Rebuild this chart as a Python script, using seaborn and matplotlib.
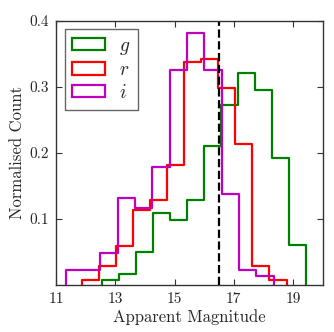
import numpy as np
import pandas as pd
import seaborn as sns
import matplotlib.pyplot as plt
from matplotlib.patches import Patch

# magnitude range of each band (12 equal bins) and normalised counts
g_range = (12.56, 19.44)
g_heights = [0.008, 0.017, 0.050, 0.109, 0.098, 0.129, 0.210, 0.273, 0.321, 0.295, 0.193, 0.060]
r_range = (11.86, 18.78)
r_heights = [0.007, 0.028, 0.059, 0.113, 0.129, 0.182, 0.337, 0.343, 0.298, 0.214, 0.028, 0.007]
i_range = (11.32, 18.35)
i_heights = [0.023, 0.023, 0.048, 0.132, 0.116, 0.179, 0.325, 0.382, 0.325, 0.138, 0.023, 0.013]

bands = ['g', 'r', 'i']
colours = ['g', 'r', 'm']
mag_cut = 16.5
x_ticks = [11, 13, 15, 17, 19]
y_ticks = [0.1, 0.2, 0.3, 0.4]

ranges = {'g': g_range, 'r': r_range, 'i': i_range}
heights = {'g': g_heights, 'r': r_heights, 'i': i_heights}

# styling
sns.set_style('ticks')
plt.rcParams['font.family'] = 'serif'
plt.rcParams['font.serif'] = ['cmr10']
plt.rcParams['mathtext.fontset'] = 'cm'
plt.rcParams['axes.formatter.use_mathtext'] = True
plt.rcParams['axes.unicode_minus'] = False

fig = plt.figure(figsize=(3.34, 3.32), dpi=100)
ax = fig.add_axes([0.168, 0.142, 0.798, 0.795])

for band, col in zip(bands, colours):
    lo, hi = ranges[band]
    edges = np.linspace(lo, hi, len(heights[band]) + 1)
    centres = (edges[:-1] + edges[1:]) / 2
    df = pd.DataFrame({'mag': centres, 'h': heights[band]})
    # tiny empty bins either side so the outline drops to zero like a step hist
    bins = [lo - 1e-6] + list(edges) + [hi + 1e-6]
    sns.histplot(data=df, x='mag', weights='h', bins=bins, element='step',
                 fill=False, color=col, lw=1.6, ax=ax)

ax.axvline(mag_cut, color='k', ls='--', lw=1.6)

ax.set_xlim(11, 20)
ax.set_ylim(0, 0.4)
ax.set_xticks(x_ticks)
ax.set_yticks(y_ticks)
ax.set_xticklabels([str(t) for t in x_ticks])
ax.set_yticklabels(['%.1f' % t for t in y_ticks])
ax.tick_params(direction='in', top=True, right=True, length=4, width=0.8,
               labelsize=11, color='0.2', pad=5)
for s in ax.spines.values():
    s.set_color('0.2')
    s.set_linewidth(1.0)
ax.set_xlabel('Apparent Magnitude', fontsize=12, labelpad=3)
ax.set_ylabel('Normalised Count', fontsize=12, labelpad=3)

handles = [Patch(facecolor='none', edgecolor=c, lw=1.6, label='$%s$' % b)
           for b, c in zip(bands, colours)]
leg = ax.legend(handles=handles, loc='upper left', bbox_to_anchor=(0.032, 0.97),
                borderaxespad=0, fontsize=14, fancybox=False, framealpha=1,
                edgecolor='0.4', handlelength=1.7, handleheight=0.6,
                labelspacing=0.25, handletextpad=0.7, borderpad=0.4)
leg.get_frame().set_linewidth(1.0)

fig.savefig('out.png', dpi=100)
